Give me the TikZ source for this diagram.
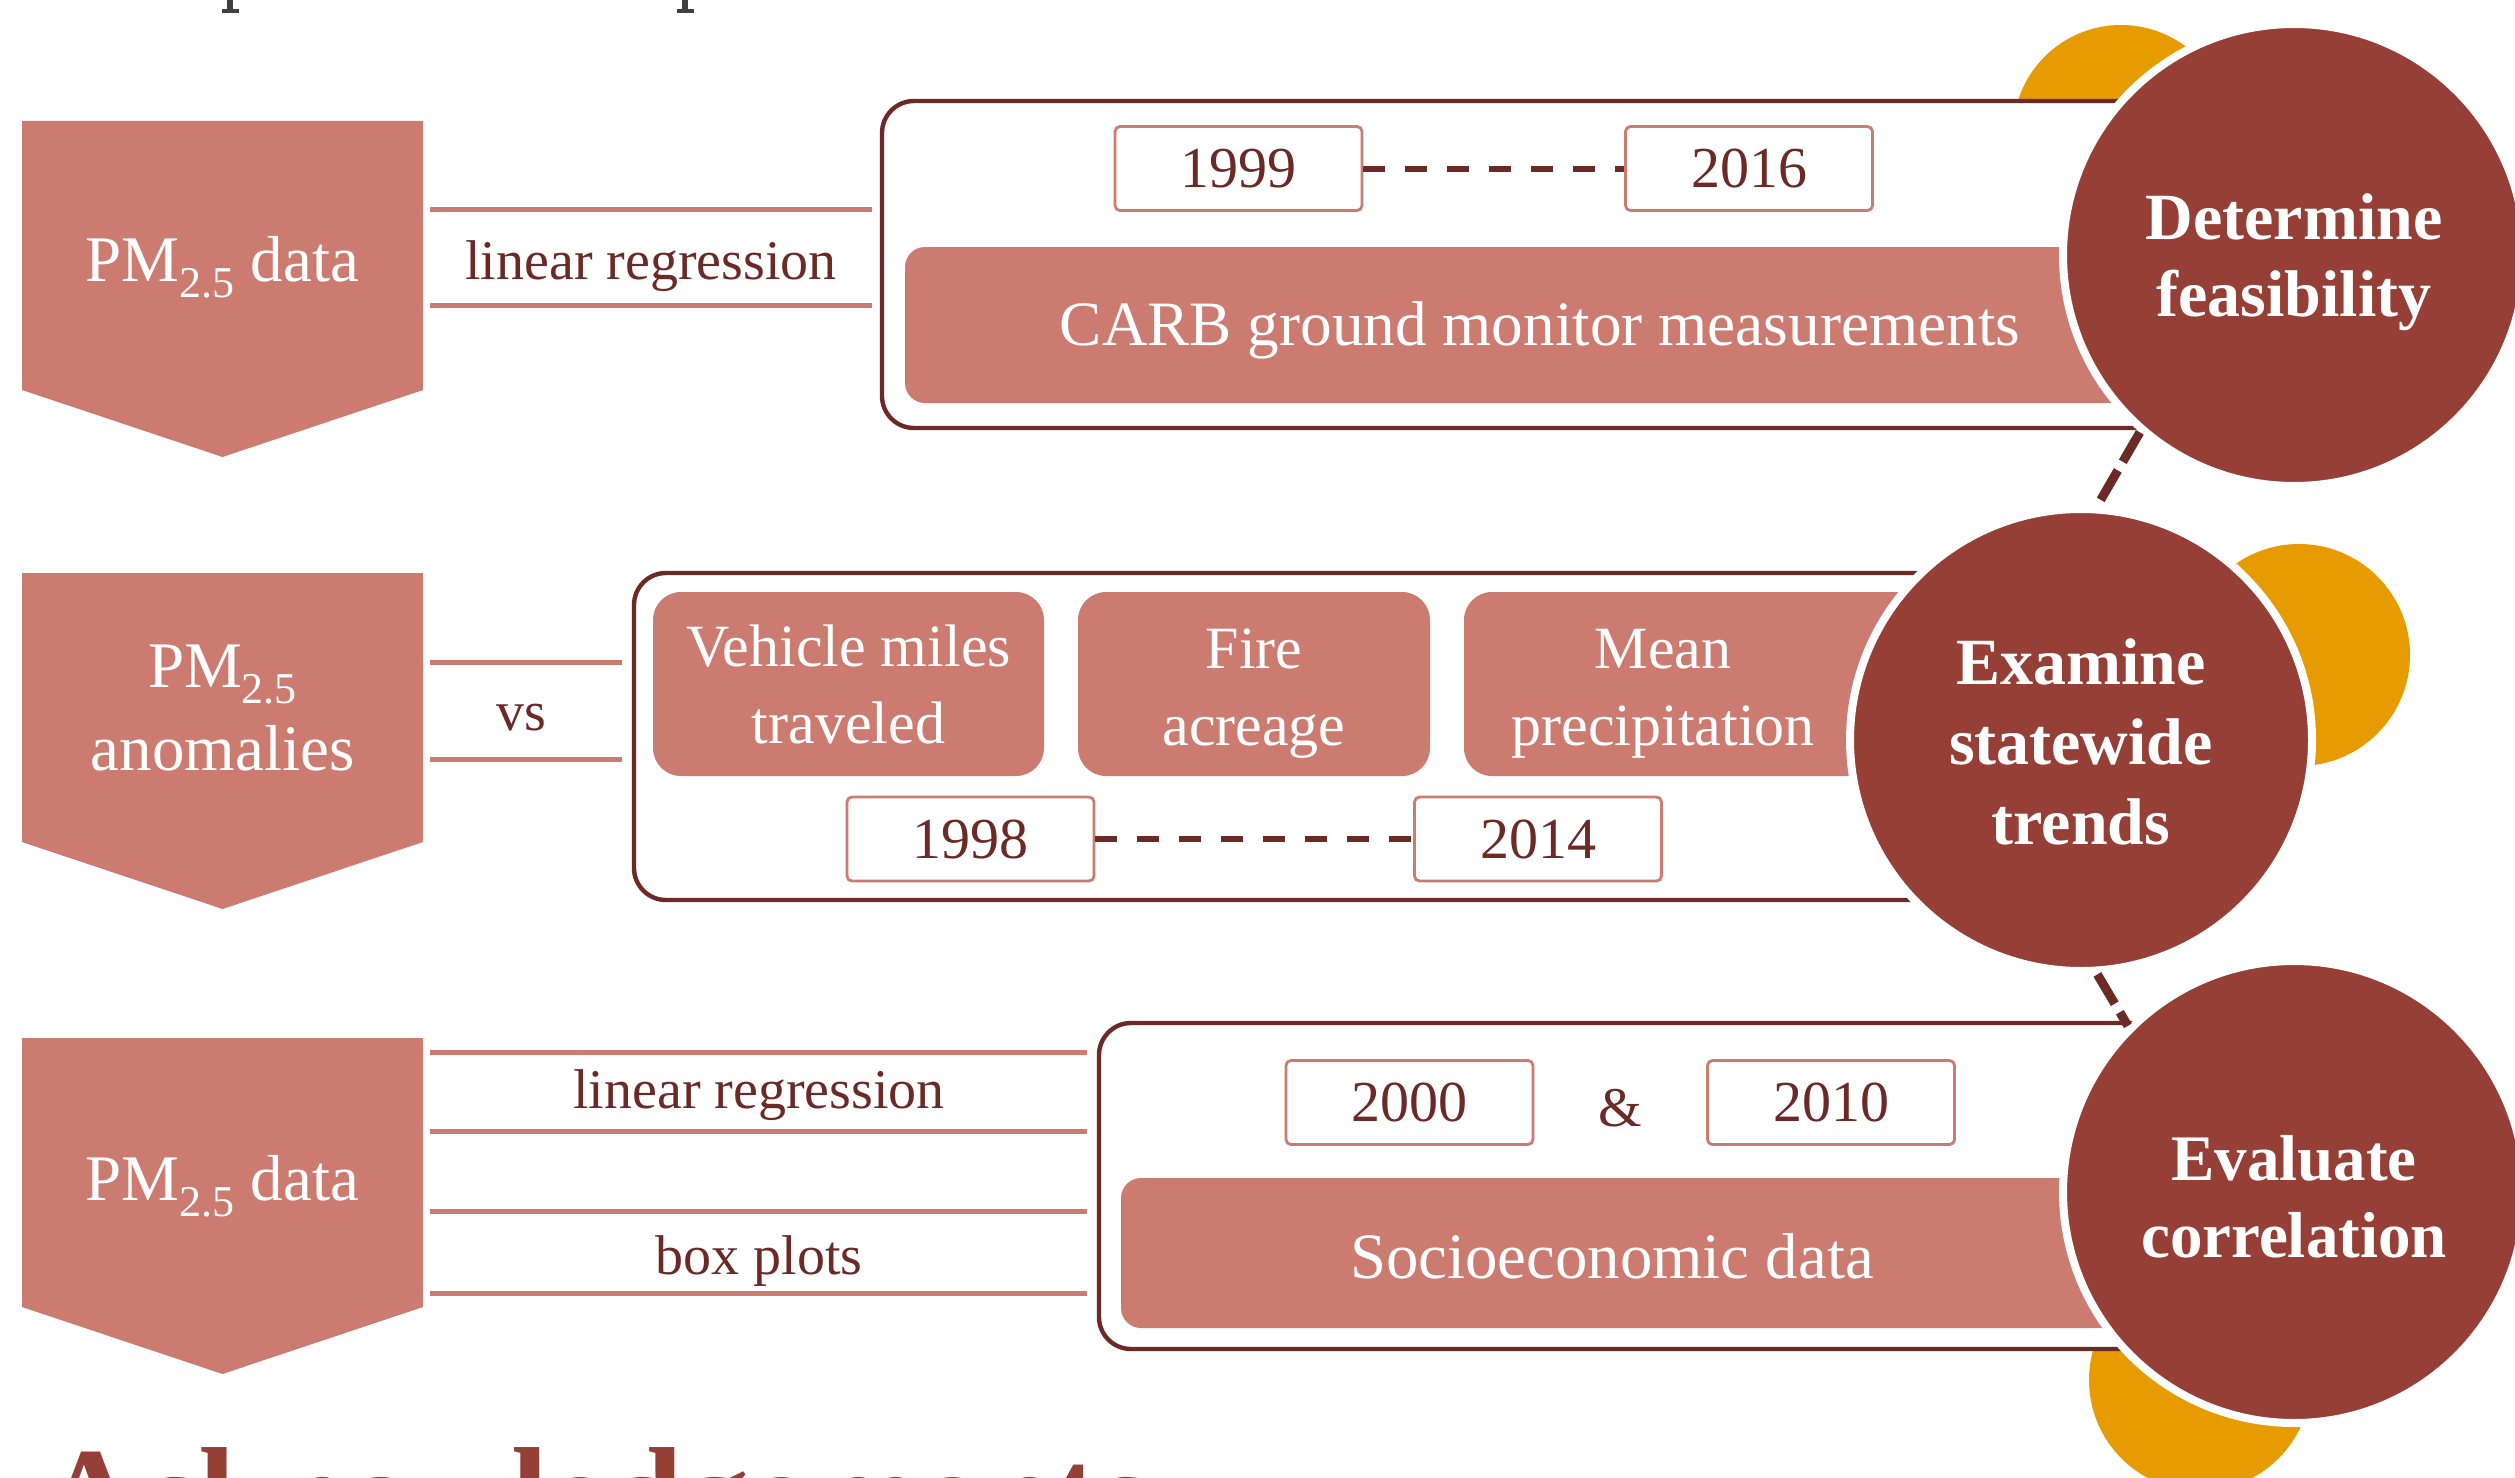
\documentclass[tikz,border=0pt]{standalone}
\usepackage{fontspec}
\setmainfont{Liberation Serif}
\usetikzlibrary{calc}
\definecolor{salmon}{HTML}{CC7B71}
\definecolor{wine}{HTML}{963F36}
\definecolor{dark}{HTML}{6B2A26}
\definecolor{gold}{HTML}{E69B00}
\definecolor{inkgray}{HTML}{404040}
\newcommand\pmsub{\raisebox{-0.25em}{\fontsize{22}{22}\selectfont 2.5}}
\tikzset{
 chevtext/.style={text=white, font=\fontsize{32.5}{40}\selectfont, inner sep=0, anchor=base},
 conn/.style={draw=salmon, line width=2.5pt},
 lbl/.style={text=dark, font=\fontsize{28}{34}\selectfont, inner sep=0, anchor=base},
 frame/.style={draw=dark, line width=2.2pt, fill=white, rounded corners=16pt},
 yearbox/.style={draw=salmon, line width=1.4pt, fill=white, rounded corners=2.5pt, minimum width=123.5pt, minimum height=42pt, inner sep=0, text=dark, font=\fontsize{29}{34}\selectfont},
 yeardash/.style={draw=dark, line width=3pt, dash pattern=on 11pt off 10pt},
 bar/.style={fill=salmon, rounded corners=10pt},
 bartext/.style={text=white, inner sep=0, anchor=base},
 tile/.style={fill=salmon, rounded corners=14pt, inner sep=0, minimum height=92pt},
 tiletext/.style={inner sep=0, text=white, font=\fontsize{30}{38.5}\selectfont, align=center},
 goal/.style={circle, fill=wine, draw=white, line width=4pt, minimum size=231pt, inner sep=0},
 goaltext/.style={inner sep=0, text=white, align=center},
 sun/.style={fill=gold},
 circdash/.style={draw=dark, line width=4.5pt, dash pattern=on 17pt off 5pt},
}
\begin{document}
\begin{tikzpicture}[x=0.5pt,y=-0.5pt]
\useasboundingbox (0,0) rectangle (2515,1477);
\clip (0,0) rectangle (2515,1477);
% cut-off descenders of the line above
\fill[inkgray] (227,0) rectangle (233,11);
\fill[inkgray] (222,9) rectangle (239,13);
\fill[inkgray] (682,0) rectangle (688,11);
\fill[inkgray] (677,9) rectangle (694,13);

% chevrons
\fill[salmon] (22,121) -- (423,121) -- (423,390) -- (222.5,457) -- (22,390) -- cycle;
\fill[salmon] (22,573) -- (423,573) -- (423,842) -- (222.5,909) -- (22,842) -- cycle;
\fill[salmon] (22,1038) -- (423,1038) -- (423,1307) -- (222.5,1374) -- (22,1307) -- cycle;
\node[chevtext] (t1) at (222.5,281) {PM\pmsub{} data};
\node[chevtext] (t2a) at (222.5,687) {PM\pmsub};
\node[chevtext] (t2b) at (222.5,770) {anomalies};
\node[chevtext] (t3) at (222.5,1200) {PM\pmsub{} data};

% connector bands
\coordinate (a1) at (430,209); \coordinate (b1) at (872,209);
\coordinate (a2) at (430,305); \coordinate (b2) at (872,305);
\draw[conn] (a1) -- (b1); \draw[conn] (a2) -- (b2);
\node[lbl] (lr1) at (651,279) {linear regression};
\coordinate (a3) at (430,662); \coordinate (b3) at (622,662);
\coordinate (a4) at (430,759); \coordinate (b4) at (622,759);
\draw[conn] (a3) -- (b3); \draw[conn] (a4) -- (b4);
\node[lbl] (vs) at (521,730) {vs};
\coordinate (a5) at (430,1052); \coordinate (b5) at (1087,1052);
\coordinate (a6) at (430,1131); \coordinate (b6) at (1087,1131);
\coordinate (a7) at (430,1211); \coordinate (b7) at (1087,1211);
\coordinate (a8) at (430,1293); \coordinate (b8) at (1087,1293);
\draw[conn] (a5) -- (b5); \draw[conn] (a6) -- (b6);
\draw[conn] (a7) -- (b7); \draw[conn] (a8) -- (b8);
\node[lbl] (lr3) at (759,1108) {linear regression};
\node[lbl] (bp) at (759,1274) {box plots};

% orange discs
\fill[sun] (2121,133) circle (108);
\fill[sun] (2299,655) circle (111);
\fill[sun] (2200,1380) circle (111);

% frames
\draw[frame] (882,101) rectangle (2250,428);
\draw[frame] (634,573) rectangle (2050,900);
\draw[frame] (1099,1023) rectangle (2250,1349);

% row 1 content
\node[yearbox] (y1999) at (1238.5,168.5) {1999};
\node[yearbox] (y2016) at (1749,168.5) {2016};
\draw[yeardash] (y1999) -- (y2016);
\fill[bar] (905,247) rectangle (2200,403);
\node[bartext, font=\fontsize{31.6}{38}\selectfont] (carb) at (1540,345) {CARB ground monitor measurements};

% row 2 content
\node[tile, minimum width=195.5pt] (vmt) at (848.5,684) {};
\node[tiletext] (vmtt) at (vmt.center) {Vehicle miles\\traveled};
\node[tile, minimum width=176pt] (fire) at (1254,684) {};
\node[tiletext, yshift=-5pt] (firet) at (fire.center) {Fire\\acreage};
\fill[salmon, rounded corners=14pt] (1464,592) rectangle (2000,776);
\node[tiletext, yshift=-5pt] (mean) at (1663,684) {Mean\\precipitation};
\node[yearbox] (y1998) at (970.5,839) {1998};
\node[yearbox] (y2014) at (1538,839) {2014};
\draw[yeardash] (y1998) -- (y2014);

% row 3 content
\node[yearbox] (y2000) at (1409.5,1102.5) {2000};
\node[yearbox] (y2010) at (1831,1102.5) {2010};
\node[lbl] (amp) at (1620,1126) {\&};
\fill[bar] (1121,1178) rectangle (2200,1328);
\node[bartext, font=\fontsize{32.4}{38}\selectfont] (socio) at (1612,1278) {Socioeconomic data};

% goal circles
\node[goal] (c1) at (2294,255) {};
\node[goal] (c2) at (2081,740) {};
\node[goal] (c3) at (2294,1192) {};
\node[goaltext, font=\bfseries\fontsize{33}{38.5}\selectfont, yshift=-3.5pt] (c1t) at (c1.center) {Determine\\feasibility};
\node[goaltext, font=\bfseries\fontsize{33}{40}\selectfont, yshift=-1pt] (c2t) at (c2.center) {Examine\\statewide\\trends};
\node[goaltext, font=\bfseries\fontsize{32.5}{38.5}\selectfont, yshift=-2.5pt] (c3t) at (c3.center) {Evaluate\\correlation};
\draw[circdash] (c1.229) -- (c2.86);
\draw[circdash] (c2.274) -- (c3.135);

% heading cut by the lower edge
\node[anchor=base west, inner sep=0, text=wine, font=\bfseries\fontsize{67}{70}\selectfont] (ack) at (42,1540) {Acknowledgements};
\end{tikzpicture}
\end{document}
